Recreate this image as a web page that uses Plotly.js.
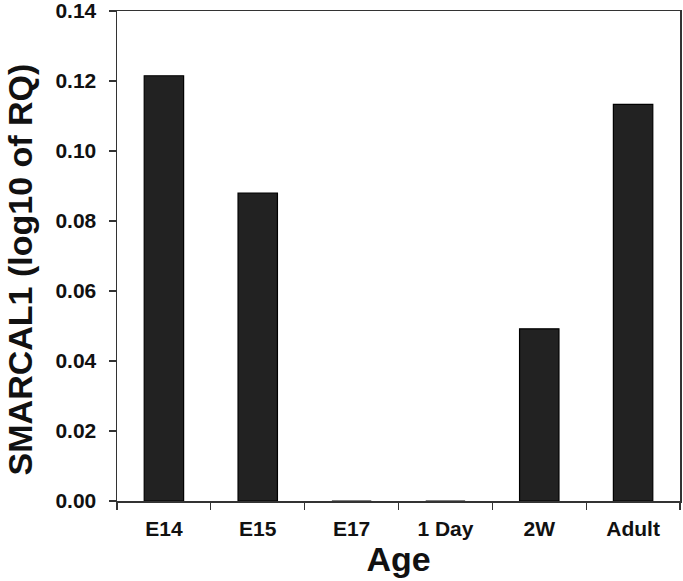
<!DOCTYPE html>
<html>
<head>
<meta charset="utf-8">
<script src="https://cdn.plot.ly/plotly-3.0.1.min.js"></script>
<style>html,body{margin:0;padding:0;background:#fff;}#chart{width:683px;height:581px;}</style>
</head>
<body>
<div id="chart"></div>
<script>
const categories = ["E14", "E15", "E17", "1 Day", "2W", "Adult"];
const values = [0.1215, 0.088, 0, 0, 0.0492, 0.1133];
const yTicks = [0, 0.02, 0.04, 0.06, 0.08, 0.10, 0.12, 0.14];
const yTickLabels = ["0.00", "0.02", "0.04", "0.06", "0.08", "0.10", "0.12", "0.14"];
const yTitle = "SMARCAL1 (log10 of RQ)";
const xTitle = "Age";

const fontFam = "Liberation Sans, Arial, sans-serif";
const trace = {
  type: "bar",
  x: categories,
  y: values,
  width: 0.42,
  marker: {color: "#222222", line: {color: "#000000", width: 1.2}},
  hoverinfo: "none"
};
const layout = {
  width: 683, height: 581,
  margin: {l: 117, r: 3, t: 11, b: 80},
  paper_bgcolor: "#fff", plot_bgcolor: "#fff",
  showlegend: false,
  xaxis: {
    type: "category",
    showline: true, linecolor: "#333", linewidth: 1.5, mirror: true,
    ticks: "outside", tickson: "boundaries", ticklen: 7, tickwidth: 1.3, tickcolor: "#333",
    showgrid: false, zeroline: false,
    ticklabelstandoff: 8,
    tickfont: {family: fontFam, size: 21, color: "#111", weight: "bold"},
    title: {text: xTitle, font: {family: fontFam, size: 34, color: "#111", weight: "bold"}, standoff: 5}
  },
  yaxis: {
    range: [0, 0.14],
    tickvals: yTicks, ticktext: yTickLabels,
    showline: true, linecolor: "#333", linewidth: 1.5, mirror: true,
    ticks: "outside", ticklen: 7, tickwidth: 1.3, tickcolor: "#333",
    showgrid: false, zeroline: false,
    ticklabelstandoff: 8,
    ticklabeloverflow: "allow",
    tickfont: {family: fontFam, size: 21, color: "#111", weight: "bold"}
  },
  annotations: [{
    text: yTitle, textangle: -90, showarrow: false,
    xref: "paper", yref: "paper", x: -0.172, y: 0.473,
    xanchor: "center", yanchor: "middle",
    font: {family: fontFam, size: 34, color: "#111", weight: "bold"}
  }]
};
Plotly.newPlot("chart", [trace], layout, {staticPlot: true, displayModeBar: false});
</script>
</body>
</html>
